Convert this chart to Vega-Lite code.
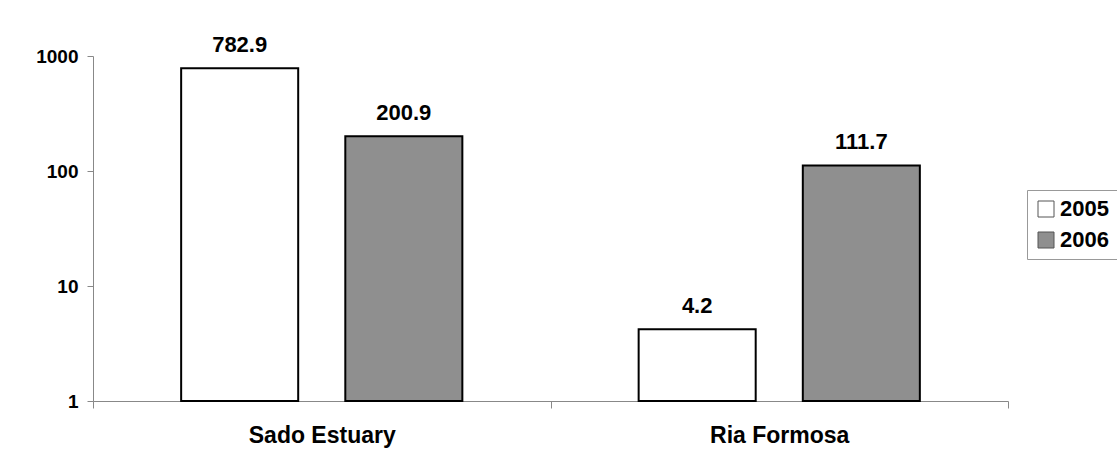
{
  "$schema": "https://vega.github.io/schema/vega-lite/v6.json",
  "width": 915,
  "height": 345,
  "autosize": {"type": "none"},
  "padding": {"left": 93, "top": 56, "right": 109, "bottom": 51},
  "background": "white",
  "config": {
    "view": {"stroke": null},
    "font": "Liberation Sans",
    "axis": {"grid": false}
  },
  "data": {
    "values": [
      {"site": "Sado Estuary", "year": "2005", "value": 782.9},
      {"site": "Sado Estuary", "year": "2006", "value": 200.9},
      {"site": "Ria Formosa", "year": "2005", "value": 4.2},
      {"site": "Ria Formosa", "year": "2006", "value": 111.7}
    ]
  },
  "encoding": {
    "x": {
      "field": "site",
      "type": "nominal",
      "sort": ["Sado Estuary", "Ria Formosa"],
      "scale": {"paddingInner": 0, "paddingOuter": 0},
      "axis": {
        "title": null,
        "labelAngle": 0,
        "labelFont": "Liberation Sans",
        "labelFontWeight": "bold",
        "labelFontSize": 23,
        "labelColor": "black",
        "labelPadding": 16,
        "tickBand": "extent",
        "tickSize": 7,
        "tickColor": "#888888",
        "domainColor": "#888888",
        "domainWidth": 1,
        "tickWidth": 1
      }
    },
    "xOffset": {
      "field": "year",
      "type": "nominal",
      "scale": {"paddingInner": 0.287, "paddingOuter": 0.537}
    },
    "y": {
      "field": "value",
      "type": "quantitative",
      "scale": {"type": "log", "domain": [1, 1000]},
      "axis": {
        "title": null,
        "values": [1, 10, 100, 1000],
        "format": "d",
        "labelFont": "Liberation Sans",
        "labelFontWeight": "bold",
        "labelFontSize": 19,
        "labelColor": "black",
        "labelPadding": 9,
        "tickSize": 6,
        "tickColor": "#888888",
        "domainColor": "#888888",
        "domainWidth": 1,
        "tickWidth": 1
      }
    }
  },
  "layer": [
    {
      "mark": {"type": "bar", "stroke": "black", "strokeWidth": 2},
      "encoding": {
        "y2": {"datum": 1},
        "fill": {
          "field": "year",
          "type": "nominal",
          "scale": {"domain": ["2005", "2006"], "range": ["#ffffff", "#8f8f8f"]},
          "legend": {
            "title": null,
            "orient": "none",
            "legendX": 934,
            "legendY": 134,
            "symbolType": "square",
            "symbolSize": 256,
            "symbolStrokeColor": "#555555",
            "symbolStrokeWidth": 1,
            "labelFont": "Liberation Sans",
            "labelFontWeight": "bold",
            "labelFontSize": 22,
            "labelColor": "black",
            "labelOffset": 3,
            "rowPadding": 9,
            "strokeColor": "#999999",
            "padding": 8,
            "fillColor": "white"
          }
        }
      }
    },
    {
      "mark": {"type": "text", "dy": -11, "baseline": "bottom", "fontWeight": "bold", "fontSize": 22, "font": "Liberation Sans", "color": "black"},
      "encoding": {
        "text": {"field": "value", "type": "quantitative", "format": ".1f"}
      }
    }
  ]
}
